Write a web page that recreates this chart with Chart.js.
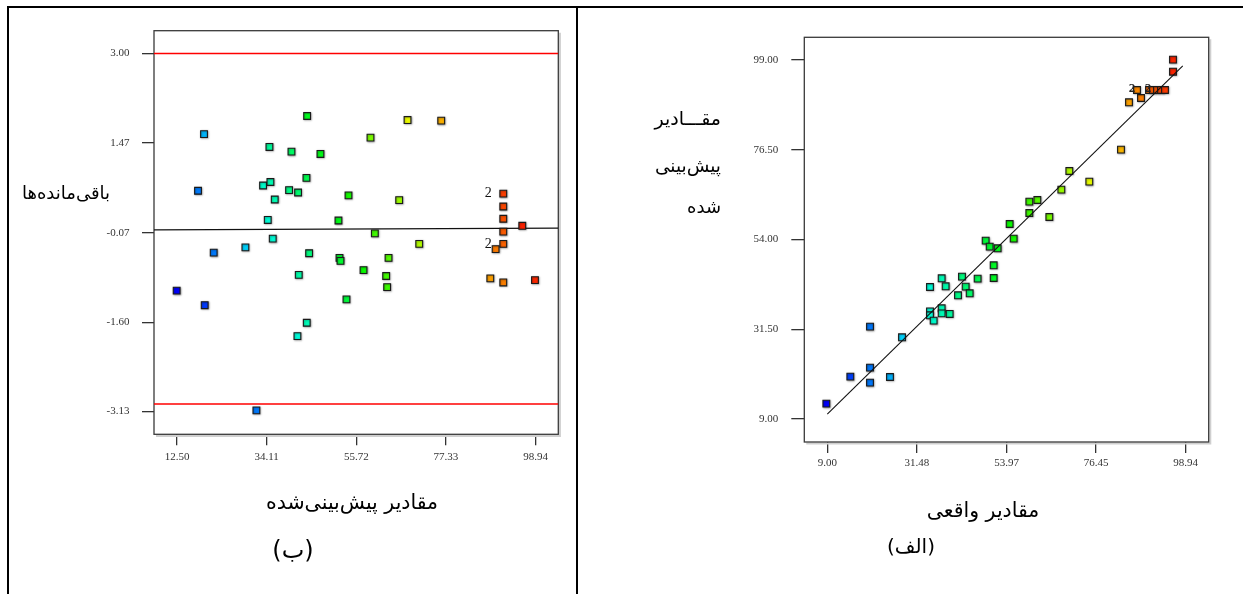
<!DOCTYPE html>
<html lang="fa">
<head>
<meta charset="utf-8">
<title>نمودار باقی‌مانده‌ها و مقادیر پیش‌بینی‌شده</title>
<script src="https://cdn.jsdelivr.net/npm/chart.js@4.4.1/dist/chart.umd.min.js"></script>
<style>
  html, body { margin: 0; padding: 0; background: #fff; }
  #page { position: relative; width: 1243px; height: 594px; overflow: hidden; background: #fff; }
  canvas { position: absolute; top: 0; }
  .rule { position: absolute; background: #000; }
  .fa { position: absolute; font-family: "DejaVu Sans", sans-serif; color: #000; white-space: nowrap; direction: rtl; line-height: 1; }
  .c { transform: translate(-50%, -50%); }
  .r { transform: translateY(-50%); text-align: right; }
</style>
</head>
<body>
<div id="page">
  <canvas id="residualChart" width="578" height="594" style="left:0"></canvas>
  <canvas id="parityChart" width="665" height="594" style="left:578px"></canvas>

  <!-- table frame around the two panels -->
  <div class="rule" style="left:7px;top:5.5px;width:1236px;height:2px"></div>
  <div class="rule" style="left:7px;top:5.5px;width:2px;height:590px"></div>
  <div class="rule" style="left:576px;top:5.5px;width:2px;height:590px"></div>

  <!-- panel (ب): residuals vs predicted -->
  <div class="fa c" style="left:66px;top:193px;font-size:18px">باقی‌مانده‌ها</div>
  <div class="fa c" style="left:352px;top:502px;font-size:20.5px">مقادیر پیش‌بینی‌شده</div>
  <div class="fa c" style="left:293px;top:550px;font-size:24px">(ب)</div>

  <!-- panel (الف): predicted vs actual -->
  <div class="fa r" style="right:522px;top:118px;font-size:19px">مقـــادیر</div>
  <div class="fa r" style="right:522px;top:166px;font-size:18.5px">پیش‌بینی</div>
  <div class="fa r" style="right:522px;top:207px;font-size:18px">شده</div>
  <div class="fa c" style="left:983px;top:510px;font-size:20.5px">مقادیر واقعی</div>
  <div class="fa c" style="left:911px;top:546px;font-size:20px">(الف)</div>
</div>

<script>
// ---- panel (ب): studentized residuals against predicted response ----
const predicted = [
  19.01, 17.56, 21.34, 12.41, 19.17, 28.98, 31.63, 34.77, 33.24, 35.01,
  36.05, 34.37, 35.57, 40.08, 39.51, 41.68, 43.86, 43.69, 47.07, 44.34,
  41.84, 43.77, 41.52, 53.83, 51.41, 51.66, 51.90, 53.34, 57.45, 59.13,
  60.18, 63.48, 62.91, 63.15, 66.05, 68.06, 70.88, 76.18, 91.14, 91.14,
  91.14, 91.14, 91.14, 89.29, 95.72, 88.01, 91.14, 98.78
];
const residuals = [
   1.62,  0.65, -0.41, -1.06, -1.31, -0.32, -3.11,  1.40,  0.74,  0.80,
   0.50,  0.15, -0.17,  1.32,  0.66,  0.62,  1.93,  0.87,  1.28, -0.42,
  -0.79, -1.61, -1.84,  0.57,  0.14, -0.50, -0.55, -1.21, -0.71,  1.56,
  -0.08, -0.50, -0.81, -1.00,  0.49,  1.86, -0.26,  1.85,  0.60,  0.38,
   0.17, -0.05, -0.26, -0.35,  0.05, -0.85, -0.92, -0.88
];
const residualDuplicates = [38, 42];          // runs plotted twice at the same spot
const residualLimits = [-3.00, 3.00];         // outlier limits
const residualTrend = [-0.02, 0.01];          // reference line at left / right edge
const predictedTicks = [12.50, 34.11, 55.72, 77.33, 98.94];
const residualTicks = [-3.13, -1.60, -0.07, 1.47, 3.00];

// ---- panel (الف): predicted against actual response ----
const actual = [
   8.76, 14.78, 19.72, 19.72, 19.72, 24.73, 27.75, 34.77, 34.77, 34.77,
  35.69, 37.70, 38.70, 37.70, 37.70, 39.71, 41.80, 42.80, 43.72, 44.73,
  46.73, 50.75, 50.75, 48.74, 49.75, 51.75, 54.76, 55.77, 59.70, 59.70,
  61.71, 64.72, 67.73, 69.74, 74.75, 82.70, 84.71, 87.72, 86.72, 89.73,
  90.73, 91.74, 92.74, 93.74, 95.75, 95.75
];
const predictedByActual = [
  12.85, 19.62, 32.15, 21.87, 18.11, 19.53, 29.48, 42.09, 35.99, 34.99,
  33.65, 44.27, 42.26, 36.75, 35.49, 35.33, 40.01, 44.68, 42.18, 40.51,
  44.18, 47.53, 44.35, 53.71, 52.21, 51.79, 57.89, 54.21, 63.49, 60.64,
  63.90, 59.64, 66.49, 71.17, 68.50, 76.52, 88.39, 89.47, 91.48, 91.48,
  91.48, 91.48, 91.48, 91.48, 99.08, 96.07
];
const parityDuplicates = [38, 40];
const parityLineActual = [9.00, 98.20];
const parityLinePredicted = [10.20, 97.50];
const actualTicks = [9.00, 31.48, 53.97, 76.45, 98.94];
const parityTicks = [9.00, 31.50, 54.00, 76.50, 99.00];

// response colour ramp: blue (low) -> cyan -> green -> yellow -> red (high)
const responseRange = [9.00, 99.00];
function responseColour(v) {
  const t = Math.min(1, Math.max(0, (v - responseRange[0]) / (responseRange[1] - responseRange[0])));
  return `hsl(${(240 * (1 - t)).toFixed(1)}, 100%, 49%)`;
}
// approximate response units per studentized residual, used to colour panel (ب)
const residualSpread = 3.8;

const tickFont = { family: "'Liberation Serif', 'Times New Roman', serif", size: 11 };

function fixedTicks(values) {
  return scale => { scale.ticks = values.map(v => ({ value: v })); };
}

function axis(min, max, values, tickLength, padding, horizontal) {
  return {
    type: 'linear',
    min, max,
    afterBuildTicks: fixedTicks(values),
    afterFit: s => { if (horizontal) s.height = 40; else s.width = 60; },
    ticks: {
      callback: v => Number(v).toFixed(2),
      font: tickFont, color: '#333', padding,
      autoSkip: false, maxRotation: 0
    },
    grid: { drawOnChartArea: false, drawTicks: true, tickLength, color: '#333', lineWidth: 1.3 },
    border: { display: false }
  };
}

// plot frame with a soft grey edge on the right and bottom
const plotFrame = {
  id: 'plotFrame',
  beforeDatasetsDraw(chart) {
    const { ctx, chartArea: a } = chart;
    ctx.save();
    ctx.strokeStyle = '#cfcfcf';
    ctx.lineWidth = 2;
    ctx.beginPath();
    ctx.moveTo(a.right + 1.6, a.top + 2);
    ctx.lineTo(a.right + 1.6, a.bottom + 1.6);
    ctx.lineTo(a.left + 2, a.bottom + 1.6);
    ctx.stroke();
    ctx.strokeStyle = '#3a3a3a';
    ctx.lineWidth = 1.3;
    ctx.strokeRect(a.left, a.top, a.right - a.left, a.bottom - a.top);
    ctx.restore();
  }
};

// faint halo behind the square markers
const markerHalo = {
  id: 'markerHalo',
  beforeDatasetDraw(chart, args) {
    if (args.meta.dataset && chart.data.datasets[args.index].showLine) return;
    const ctx = chart.ctx;
    ctx.save();
    ctx.shadowColor = 'rgba(0,0,0,0.35)';
    ctx.shadowBlur = 2;
    ctx.shadowOffsetX = 0.6;
    ctx.shadowOffsetY = 0.6;
  },
  afterDatasetDraw(chart, args) {
    if (args.meta.dataset && chart.data.datasets[args.index].showLine) return;
    chart.ctx.restore();
  }
};

// "2" beside markers that stand for two runs
const repeatMarks = {
  id: 'repeatMarks',
  afterDatasetsDraw(chart, args, opts) {
    const meta = chart.getDatasetMeta(opts.datasetIndex);
    const ctx = chart.ctx;
    ctx.save();
    ctx.font = opts.font;
    ctx.fillStyle = opts.color;
    ctx.textAlign = 'center';
    ctx.textBaseline = 'middle';
    opts.indices.forEach(i => {
      const el = meta.data[i];
      ctx.fillText('2', el.x + opts.dx, el.y + opts.dy);
    });
    ctx.restore();
  }
};

function pointSet(xs, ys, colourOf) {
  return {
    data: xs.map((x, i) => ({ x, y: ys[i] })),
    pointStyle: 'rect',
    pointRadius: 4.8,
    pointBorderWidth: 1.1,
    pointBorderColor: '#1a1a1a',
    pointBackgroundColor: xs.map((x, i) => colourOf(x, ys[i])),
    showLine: false
  };
}

function lineSet(xs, ys, colour, width) {
  return {
    data: xs.map((x, i) => ({ x, y: ys[i] })),
    showLine: true, borderColor: colour, borderWidth: width,
    pointRadius: 0, fill: false
  };
}

const residualX = [6.95, 104.4];
const residualY = [-3.52, 3.39];

new Chart(document.getElementById('residualChart'), {
  type: 'scatter',
  data: {
    datasets: [
      pointSet(predicted, residuals, (x, y) => responseColour(x + residualSpread * y)),
      lineSet(residualX, residualTrend, '#111', 1.3),
      lineSet(residualX, [residualLimits[1], residualLimits[1]], '#ff0000', 1.4),
      lineSet(residualX, [residualLimits[0], residualLimits[0]], '#ff0000', 1.4)
    ]
  },
  options: {
    responsive: false, animation: false, devicePixelRatio: 1,
    layout: { padding: { left: 94, top: 30.7, right: 19.7, bottom: 119.7 } },
    plugins: {
      legend: { display: false }, tooltip: { enabled: false },
      repeatMarks: { datasetIndex: 0, indices: residualDuplicates, dx: -15, dy: 0,
        font: "14px 'Liberation Serif', serif", color: '#111' }
    },
    scales: {
      x: axis(residualX[0], residualX[1], predictedTicks, 11, 5, true),
      y: axis(residualY[0], residualY[1], residualTicks, 12, 12.5, false)
    }
  },
  plugins: [plotFrame, markerHalo, repeatMarks]
});

const parityX = [3.23, 104.71];
const parityY = [3.23, 104.69];

new Chart(document.getElementById('parityChart'), {
  type: 'scatter',
  data: {
    datasets: [
      lineSet(parityLineActual, parityLinePredicted, '#111', 1.1),
      pointSet(actual, predictedByActual, x => responseColour(x))
    ]
  },
  options: {
    responsive: false, animation: false, devicePixelRatio: 1,
    layout: { padding: { left: 166.3, top: 37.3, right: 34.3, bottom: 112 } },
    plugins: {
      legend: { display: false }, tooltip: { enabled: false },
      repeatMarks: { datasetIndex: 1, indices: parityDuplicates, dx: -5, dy: -1,
        font: "bold 13px 'Liberation Serif', serif", color: '#222' }
    },
    scales: {
      x: axis(parityX[0], parityX[1], actualTicks, 11, 4, true),
      y: axis(parityY[0], parityY[1], parityTicks, 13, 13, false)
    }
  },
  plugins: [plotFrame, markerHalo, repeatMarks]
});
</script>
</body>
</html>
